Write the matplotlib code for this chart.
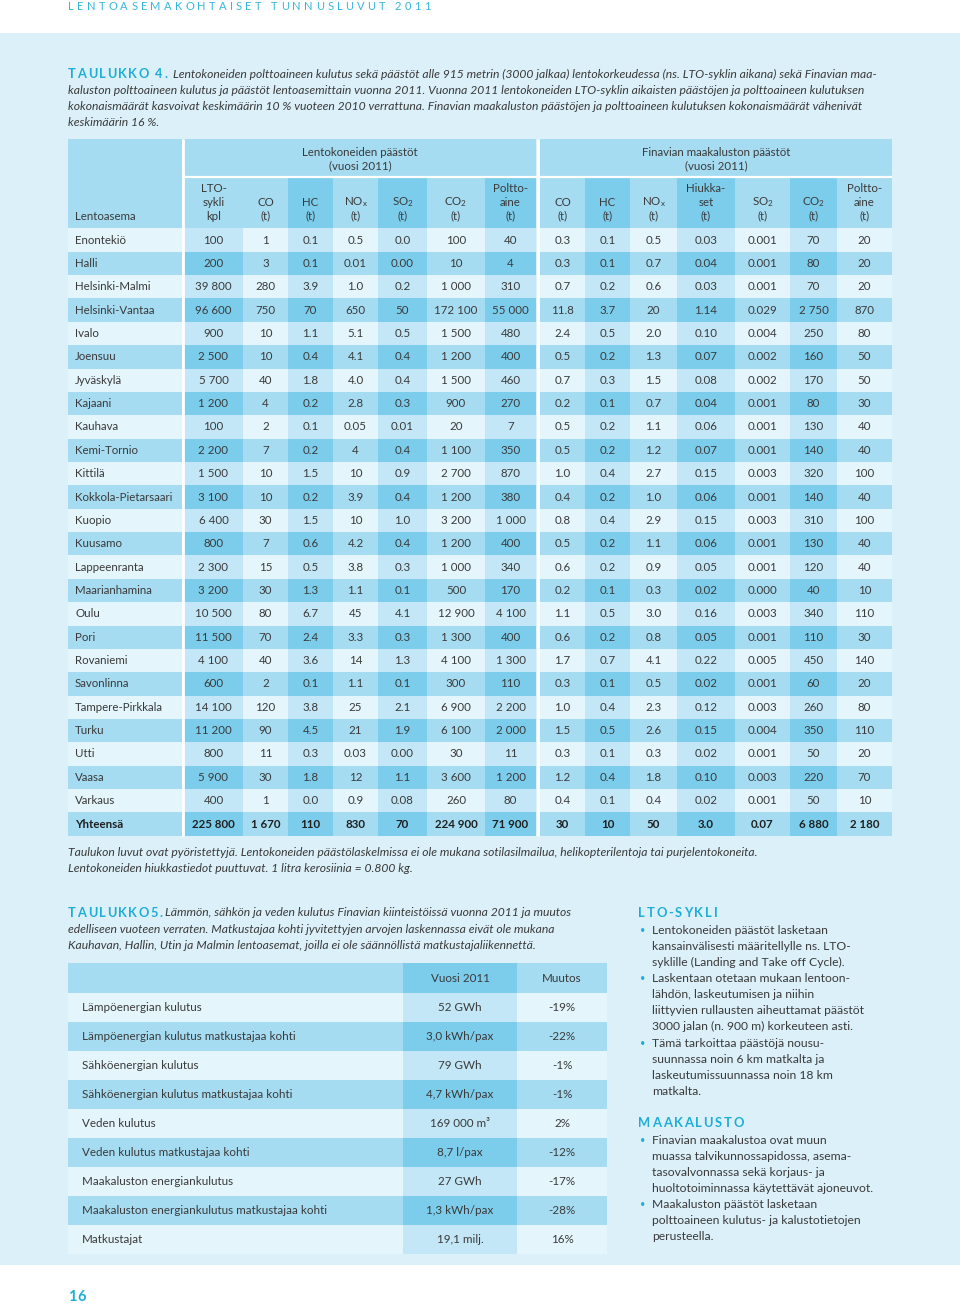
import matplotlib.pyplot as plt
from matplotlib.patches import Rectangle

plt.rcParams['font.family'] = ['Lato', 'DejaVu Sans']
plt.rcParams['mathtext.fontset'] = 'custom'
plt.rcParams['mathtext.rm'] = 'Lato'
plt.rcParams['mathtext.it'] = 'Lato:italic'
plt.rcParams['mathtext.bf'] = 'Lato:bold'

# ---- data: taulukko 4 ----
airports = ['Enontekiö', 'Halli', 'Helsinki-Malmi', 'Helsinki-Vantaa', 'Ivalo', 'Joensuu',
            'Jyväskylä', 'Kajaani', 'Kauhava', 'Kemi-Tornio', 'Kittilä', 'Kokkola-Pietarsaari',
            'Kuopio', 'Kuusamo', 'Lappeenranta', 'Maarianhamina', 'Oulu', 'Pori', 'Rovaniemi',
            'Savonlinna', 'Tampere-Pirkkala', 'Turku', 'Utti', 'Vaasa', 'Varkaus', 'Yhteensä']

lto_cycles = ['100', '200', '39 800', '96 600', '900', '2 500', '5 700', '1 200', '100', '2 200',
              '1 500', '3 100', '6 400', '800', '2 300', '3 200', '10 500', '11 500', '4 100', '600',
              '14 100', '11 200', '800', '5 900', '400', '225 800']
plane_co = ['1', '3', '280', '750', '10', '10', '40', '4', '2', '7', '10', '10', '30', '7', '15',
            '30', '80', '70', '40', '2', '120', '90', '11', '30', '1', '1 670']
plane_hc = ['0.1', '0.1', '3.9', '70', '1.1', '0.4', '1.8', '0.2', '0.1', '0.2', '1.5', '0.2', '1.5',
            '0.6', '0.5', '1.3', '6.7', '2.4', '3.6', '0.1', '3.8', '4.5', '0.3', '1.8', '0.0', '110']
plane_nox = ['0.5', '0.01', '1.0', '650', '5.1', '4.1', '4.0', '2.8', '0.05', '4', '10', '3.9', '10',
             '4.2', '3.8', '1.1', '45', '3.3', '14', '1.1', '25', '21', '0.03', '12', '0.9', '830']
plane_so2 = ['0.0', '0.00', '0.2', '50', '0.5', '0.4', '0.4', '0.3', '0.01', '0.4', '0.9', '0.4', '1.0',
             '0.4', '0.3', '0.1', '4.1', '0.3', '1.3', '0.1', '2.1', '1.9', '0.00', '1.1', '0.08', '70']
plane_co2 = ['100', '10', '1 000', '172 100', '1 500', '1 200', '1 500', '900', '20', '1 100', '2 700',
             '1 200', '3 200', '1 200', '1 000', '500', '12 900', '1 300', '4 100', '300', '6 900',
             '6 100', '30', '3 600', '260', '224 900']
plane_fuel = ['40', '4', '310', '55 000', '480', '400', '460', '270', '7', '350', '870', '380', '1 000',
              '400', '340', '170', '4 100', '400', '1 300', '110', '2 200', '2 000', '11', '1 200', '80',
              '71 900']

ground_co = ['0.3', '0.3', '0.7', '11.8', '2.4', '0.5', '0.7', '0.2', '0.5', '0.5', '1.0', '0.4', '0.8',
             '0.5', '0.6', '0.2', '1.1', '0.6', '1.7', '0.3', '1.0', '1.5', '0.3', '1.2', '0.4', '30']
ground_hc = ['0.1', '0.1', '0.2', '3.7', '0.5', '0.2', '0.3', '0.1', '0.2', '0.2', '0.4', '0.2', '0.4',
             '0.2', '0.2', '0.1', '0.5', '0.2', '0.7', '0.1', '0.4', '0.5', '0.1', '0.4', '0.1', '10']
ground_nox = ['0.5', '0.7', '0.6', '20', '2.0', '1.3', '1.5', '0.7', '1.1', '1.2', '2.7', '1.0', '2.9',
              '1.1', '0.9', '0.3', '3.0', '0.8', '4.1', '0.5', '2.3', '2.6', '0.3', '1.8', '0.4', '50']
ground_pm = ['0.03', '0.04', '0.03', '1.14', '0.10', '0.07', '0.08', '0.04', '0.06', '0.07', '0.15',
             '0.06', '0.15', '0.06', '0.05', '0.02', '0.16', '0.05', '0.22', '0.02', '0.12', '0.15',
             '0.02', '0.10', '0.02', '3.0']
ground_so2 = ['0.001', '0.001', '0.001', '0.029', '0.004', '0.002', '0.002', '0.001', '0.001', '0.001',
              '0.003', '0.001', '0.003', '0.001', '0.001', '0.000', '0.003', '0.001', '0.005', '0.001',
              '0.003', '0.004', '0.001', '0.003', '0.001', '0.07']
ground_co2 = ['70', '80', '70', '2 750', '250', '160', '170', '80', '130', '140', '320', '140', '310',
              '130', '120', '40', '340', '110', '450', '60', '260', '350', '50', '220', '50', '6 880']
ground_fuel = ['20', '20', '20', '870', '80', '50', '50', '30', '40', '40', '100', '40', '100', '40',
               '40', '10', '110', '30', '140', '20', '80', '110', '20', '70', '10', '2 180']

plane_headers = ['LTO-\nsykli\nkpl', 'CO\n(t)', 'HC\n(t)', 'NO$_\\mathrm{x}$\n(t)',
                 'SO$_\\mathrm{2}$\n(t)', 'CO$_\\mathrm{2}$\n(t)', 'Poltto-\naine\n(t)']
ground_headers = ['CO\n(t)', 'HC\n(t)', 'NO$_\\mathrm{x}$\n(t)', 'Hiukka-\nset\n(t)',
                  'SO$_\\mathrm{2}$\n(t)', 'CO$_\\mathrm{2}$\n(t)', 'Poltto-\naine\n(t)']
plane_cols = [lto_cycles, plane_co, plane_hc, plane_nox, plane_so2, plane_co2, plane_fuel]
ground_cols = [ground_co, ground_hc, ground_nox, ground_pm, ground_so2, ground_co2, ground_fuel]

# ---- data: taulukko 5 ----
t5_labels = ['Lämpöenergian kulutus', 'Lämpöenergian kulutus matkustajaa kohti',
             'Sähköenergian kulutus', 'Sähköenergian kulutus matkustajaa kohti', 'Veden kulutus',
             'Veden kulutus matkustajaa kohti', 'Maakaluston energiankulutus',
             'Maakaluston energiankulutus matkustajaa kohti', 'Matkustajat']
t5_year = ['52 GWh', '3,0 kWh/pax', '79 GWh', '4,7 kWh/pax', '169 000 m³', '8,7 l/pax', '27 GWh',
           '1,3 kWh/pax', '19,1 milj.']
t5_change = ['-19%', '-22%', '-1%', '-1%', '2%', '-12%', '-17%', '-28%', '16%']

t4_caption = ['Lentokoneiden polttoaineen kulutus sekä päästöt alle 915 metrin (3000 jalkaa) lentokorkeudessa (ns. LTO-syklin aikana) sekä Finavian maa-',
              'kaluston polttoaineen kulutus ja päästöt lentoasemittain vuonna 2011. Vuonna 2011 lentokoneiden LTO-syklin aikaisten päästöjen ja polttoaineen kulutuksen',
              'kokonaismäärät kasvoivat keskimäärin 10 % vuoteen 2010 verrattuna. Finavian maakaluston päästöjen ja polttoaineen kulutuksen kokonaismäärät vähenivät',
              'keskimäärin 16 %.']
t4_note = ['Taulukon luvut ovat pyöristettyjä. Lentokoneiden päästölaskelmissa ei ole mukana sotilasilmailua, helikopterilentoja tai purjelentokoneita.',
           'Lentokoneiden hiukkastiedot puuttuvat. 1 litra kerosiinia = 0.800 kg.']
t5_caption = ['Lämmön, sähkön ja veden kulutus Finavian kiinteistöissä vuonna 2011 ja muutos',
              'edelliseen vuoteen verraten. Matkustajaa kohti jyvitettyjen arvojen laskennassa eivät ole mukana',
              'Kauhavan, Hallin, Utin ja Malmin lentoasemat, joilla ei ole säännöllistä matkustajaliikennettä.']
lto_bullets = [['Lentokoneiden päästöt lasketaan', 'kansainvälisesti määritellylle ns. LTO-',
                'syklille (Landing and Take off Cycle).'],
               ['Laskentaan otetaan mukaan lentoon-', 'lähdön, laskeutumisen ja niihin',
                'liittyvien rullausten aiheuttamat päästöt', '3000 jalan (n. 900 m) korkeuteen asti.'],
               ['Tämä tarkoittaa päästöjä nousu-', 'suunnassa noin 6 km matkalta ja',
                'laskeutumissuunnassa noin 18 km', 'matkalta.']]
ground_bullets = [['Finavian maakalustoa ovat muun', 'muassa talvikunnossapidossa, asema-',
                   'tasovalvonnassa sekä korjaus- ja', 'huoltotoiminnassa käytettävät ajoneuvot.'],
                  ['Maakaluston päästöt lasketaan', 'polttoaineen kulutus- ja kalustotietojen',
                   'perusteella.']]

# ---- colours ----
BG = '#dcf0f9'
C_LL = '#e4f5fc'
C_LD = '#c3e7f6'
C_DL = '#a6dcf2'
C_DD = '#7ccdec'
CYAN = '#1daed8'
TXT = '#3a3a3a'

fig = plt.figure(figsize=(9.6, 13.08), dpi=100)
ax = fig.add_axes([0, 0, 1, 1])
ax.set_xlim(0, 960)
ax.set_ylim(1308, 0)
ax.axis('off')
renderer = fig.canvas.get_renderer()


def box(x0, x1, y0, y1, color):
    ax.add_patch(Rectangle((x0, y0), x1 - x0, y1 - y0, facecolor=color, edgecolor='none', lw=0))


def width(s, size, **kw):
    if not s.strip():
        return 0.0
    t = ax.text(0, 0, s, fontsize=size, **kw)
    w = t.get_window_extent(renderer).width
    t.remove()
    return w


def tracked(x, y, s, track, size, **kw):
    # letter-spaced heading: each glyph placed after the natural width of its prefix
    end = x
    for k, ch in enumerate(s):
        if ch == ' ':
            continue
        wk = width(ch, size, **kw)
        xk = x + width(s[:k + 1], size, **kw) - wk + k * track
        ax.text(xk, y, ch, fontsize=size, ha='left', va='center', **kw)
        end = xk + wk
    return end


ax.add_patch(Rectangle((0, 33), 960, 1232, facecolor=BG, edgecolor='none'))
tracked(68, 6, 'LENTOASEMAKOHTAISET TUNNUSLUVUT 2011', 3.3, 8, color='#35b6de')
tracked(68, 1297, '16', 0.5, 10.5, color=CYAN, fontweight='bold')

# ---- taulukko 4 ----
name_x = (68, 182)
plane_edges = [184, 243, 288, 333, 378, 427, 485, 536]
ground_edges = [540, 585, 630, 677, 735, 790, 837, 892]
plane_dark = [True, False, True, False, True, False, True]
ground_dark = [False, True, False, True, False, True, False]
top, mid, head_bot = 139, 177, 228.4
row_h = 23.36
fs = 8.3
cap_fs = 8.7

caption_x = tracked(68, 74, 'TAULUKKO 4.', 1.6, 9.2, color=CYAN, fontweight='bold')
for i, line in enumerate(t4_caption):
    ax.text(caption_x + 6 if i == 0 else 68, 74 + i * 16.2, line, fontsize=cap_fs, style='italic',
            color=TXT, va='center')

box(name_x[0], name_x[1], top, head_bot, C_DL)
ax.text(75, 216, 'Lentoasema', fontsize=fs, color=TXT, va='center')
for edges, heads, dark, title in [(plane_edges, plane_headers, plane_dark, 'Lentokoneiden päästöt'),
                                  (ground_edges, ground_headers, ground_dark, 'Finavian maakaluston päästöt')]:
    box(edges[0], edges[-1], top, mid - 1, C_DL)
    cx = (edges[0] + edges[-1]) / 2
    ax.text(cx, 152, title, fontsize=fs, color=TXT, ha='center', va='center')
    ax.text(cx, 166, '(vuosi 2011)', fontsize=fs, color=TXT, ha='center', va='center')
    for j, h in enumerate(heads):
        hdark = dark[j] and not h.startswith('LTO')
        box(edges[j], edges[j + 1], mid + 1, head_bot, C_DD if hdark else C_DL)
        for k, part in enumerate(reversed(h.split('\n'))):
            ax.text((edges[j] + edges[j + 1]) / 2, 216 - 14 * k, part, fontsize=fs, color=TXT,
                    ha='center', va='center')

for i, name in enumerate(airports):
    y0 = head_bot + i * row_h
    yc = y0 + row_h / 2
    dark_row = i % 2 == 1
    total = name == 'Yhteensä'
    weight = 'bold' if total else 'normal'
    color = '#1f1f1f' if total else TXT
    box(name_x[0], name_x[1], y0, y0 + row_h, C_DL if dark_row else C_LL)
    ax.text(75, yc, name, fontsize=fs, color=color, va='center', fontweight=weight)
    for edges, cols, dark in [(plane_edges, plane_cols, plane_dark), (ground_edges, ground_cols, ground_dark)]:
        for j, col in enumerate(cols):
            if dark_row:
                c = C_DD if dark[j] else C_DL
            else:
                c = C_LD if dark[j] else C_LL
            box(edges[j], edges[j + 1], y0, y0 + row_h, c)
            ax.text((edges[j] + edges[j + 1]) / 2, yc, col[i], fontsize=fs, color=color,
                    ha='center', va='center', fontweight=weight)

t4_bottom = head_bot + len(airports) * row_h
for x in (183, 538):
    ax.plot([x, x], [top, t4_bottom], color='white', lw=2.0, solid_capstyle='butt')
ax.plot([plane_edges[0], ground_edges[-1]], [mid, mid], color='white', lw=1.6, solid_capstyle='butt')

for i, line in enumerate(t4_note):
    ax.text(68, 853 + i * 15.5, line, fontsize=cap_fs, style='italic', color=TXT, va='center')

# ---- taulukko 5 ----
cap5_x = tracked(68, 913, 'TAULUKKO5.', 1.6, 9.2, color=CYAN, fontweight='bold')
for i, line in enumerate(t5_caption):
    ax.text(cap5_x + 2 if i == 0 else 68, 913 + i * 16.2, line, fontsize=cap_fs, style='italic',
            color=TXT, va='center')

t5_edges = [68, 403, 517, 607]
t5_top, t5_head = 963, 993
t5_row = 29.0
fs5 = 8.4
box(t5_edges[0], t5_edges[1], t5_top, t5_head, C_DL)
box(t5_edges[1], t5_edges[2], t5_top, t5_head, C_DD)
box(t5_edges[2], t5_edges[3], t5_top, t5_head, C_DL)
ax.text(460, (t5_top + t5_head) / 2, 'Vuosi 2011', fontsize=fs5, color=TXT, ha='center', va='center')
ax.text(562, (t5_top + t5_head) / 2, 'Muutos', fontsize=fs5, color=TXT, ha='center', va='center')
for i, (lab, val, chg) in enumerate(zip(t5_labels, t5_year, t5_change)):
    y0 = t5_head + i * t5_row
    yc = y0 + t5_row / 2
    dark_row = i % 2 == 1
    box(t5_edges[0], t5_edges[1], y0, y0 + t5_row, C_DL if dark_row else C_LL)
    box(t5_edges[1], t5_edges[2], y0, y0 + t5_row, C_DD if dark_row else C_LD)
    box(t5_edges[2], t5_edges[3], y0, y0 + t5_row, C_DL if dark_row else C_LL)
    ax.text(82, yc, lab, fontsize=fs5, color=TXT, va='center')
    ax.text(460, yc, val, fontsize=fs5, color=TXT, ha='center', va='center')
    ax.text(562, yc, chg, fontsize=fs5, color=TXT, ha='center', va='center')

# ---- right column ----
line_h = 16.15
y = 913
for title, bullets in [('LTO-SYKLI', lto_bullets), ('MAAKALUSTO', ground_bullets)]:
    tracked(638, y, title, 1.8, 9.4, color=CYAN, fontweight='bold')
    y += 17
    for lines in bullets:
        ax.text(640, y, '•', fontsize=6.5, color=CYAN, va='center')
        for line in lines:
            ax.text(652, y, line, fontsize=8.7, color=TXT, va='center')
            y += line_h
    y = 1123

fig.savefig('out.png', dpi=100)
